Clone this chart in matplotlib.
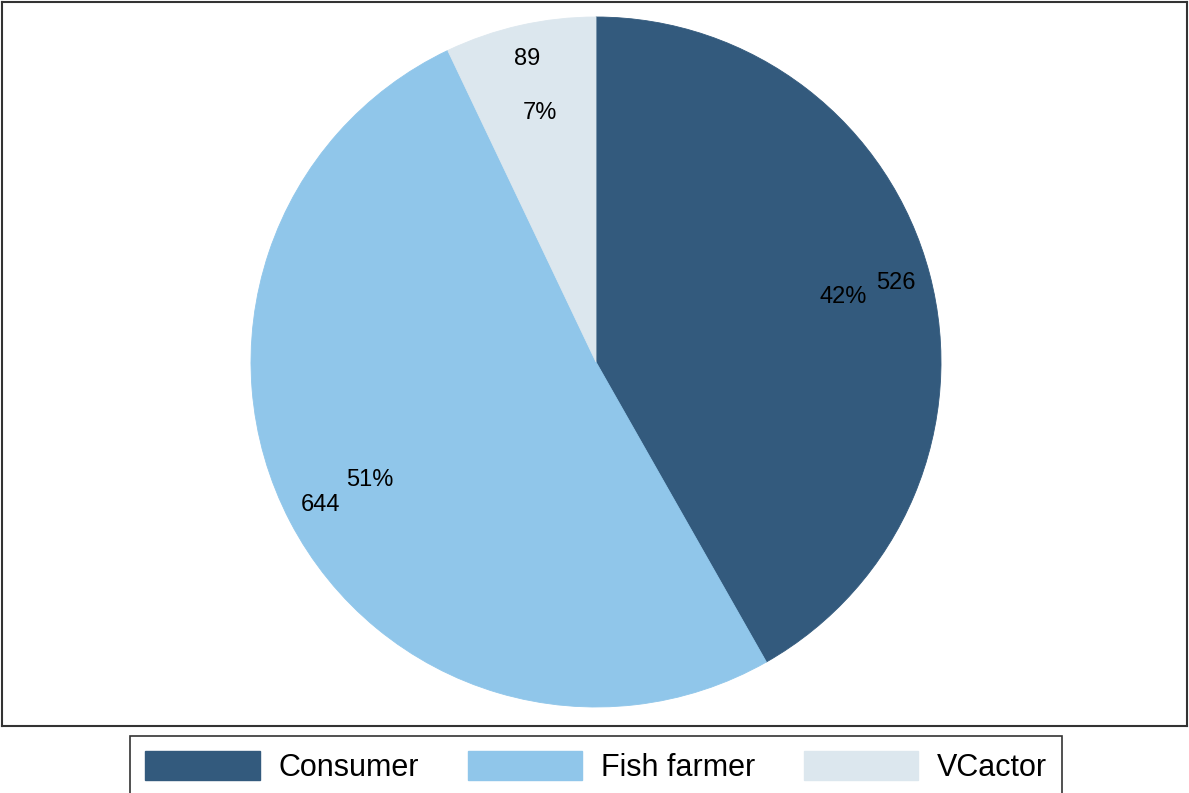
import numpy as np
import matplotlib.pyplot as plt
from matplotlib.patches import Patch

plt.rcParams['font.family'] = ['Liberation Sans', 'DejaVu Sans']

# respondent groups and counts
groups = ['Consumer', 'Fish farmer', 'VCactor']
counts = [526, 644, 89]
colors = ['#335a7d', '#90c6ea', '#dce7ee']

W, H = 1189, 793
fig = plt.figure(figsize=(W / 100, H / 100), dpi=100)

# plot region in pixel units so the pie can be placed by its centre/radius
x0, x1, y0, y1 = 2, 1187, 2, 726
ax = fig.add_axes([x0 / W, 1 - y1 / H, (x1 - x0) / W, (y1 - y0) / H])

cx, cy, r = 596, H - 362, 345
wedges, _, pcts = ax.pie(counts, colors=colors, startangle=90, counterclock=False,
                         radius=r, center=(cx, cy), frame=True,
                         autopct=lambda p: '%d%%' % round(p), pctdistance=0.74,
                         wedgeprops=dict(linewidth=0.6),
                         textprops=dict(fontsize=17, color='black'))
for w, c in zip(wedges, colors):
    w.set_edgecolor(c)

# count labels just inside the rim
for w, n in zip(wedges, counts):
    ang = np.deg2rad((w.theta1 + w.theta2) / 2)
    ax.text(cx + 0.9 * r * np.cos(ang), cy + 0.9 * r * np.sin(ang), str(n),
            ha='center', va='center', fontsize=17)

ax.set_xlim(x0, x1)
ax.set_ylim(H - y1, H - y0)
ax.set_aspect('equal')
ax.set_xticks([])
ax.set_yticks([])
for s in ax.spines.values():
    s.set_linewidth(1.5)
    s.set_color('#333333')

handles = [Patch(facecolor=c, edgecolor=c) for c in colors]
leg = fig.legend(handles, groups, loc='center', bbox_to_anchor=(596 / W, 1 - 767 / H),
                 ncol=3, fontsize=22, frameon=True, fancybox=False,
                 handlelength=3.75, handleheight=1.05, handletextpad=0.6,
                 columnspacing=1.6, borderpad=0.5, borderaxespad=0)
leg.get_frame().set_edgecolor('black')
leg.get_frame().set_linewidth(1.2)

fig.savefig('out.png', dpi=100)
